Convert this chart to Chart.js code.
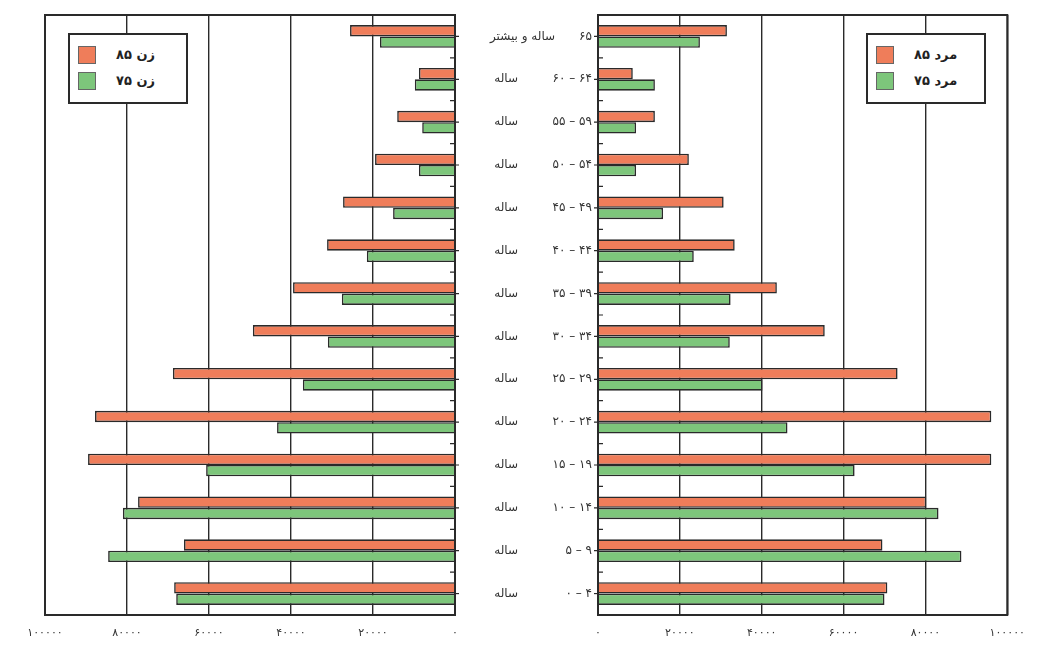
<!DOCTYPE html>
<html lang="fa">
<head>
<meta charset="utf-8">
<title>هرم سنی</title>
<script src="https://cdn.jsdelivr.net/npm/chart.js@4.4.1/dist/chart.umd.min.js"></script>
<style>
  body { margin: 0; background: #fff; }
  #wrap { position: relative; width: 1037px; height: 646px; overflow: hidden; }
  #leftBox { position: absolute; left: 0; top: 0; width: 470px; height: 646px; }
  #rightBox { position: absolute; left: 456px; top: 0; width: 581px; height: 646px; }
  .legend {
    position: absolute; width: 120px; height: 71px; background: #fff;
    border: 2px solid #2a2a2a; box-sizing: border-box;
    font-family: "DejaVu Sans", sans-serif; font-weight: bold; font-size: 13px; color: #222;
  }
  .legend .sw { position: absolute; left: 8px; width: 18px; height: 18px; box-sizing: border-box; border: 1px solid #666; }
  .legend .lb { position: absolute; left: 46px; line-height: 18px; direction: rtl; }
</style>
</head>
<body>
<div id="wrap">
  <div id="leftBox"><canvas id="womenChart" width="470" height="646"></canvas></div>
  <div id="rightBox"><canvas id="menChart" width="581" height="646"></canvas></div>
  <div class="legend" style="left:68px;top:33px">
    <div class="sw" style="top:11px;background:#EF7D5A"></div><div class="lb" style="top:11px">زن ۸۵</div>
    <div class="sw" style="top:37px;background:#7DC67B"></div><div class="lb" style="top:37px">زن ۷۵</div>
  </div>
  <div class="legend" style="left:866px;top:33px">
    <div class="sw" style="top:11px;background:#EF7D5A"></div><div class="lb" style="top:11px">مرد ۸۵</div>
    <div class="sw" style="top:37px;background:#7DC67B"></div><div class="lb" style="top:37px">مرد ۷۵</div>
  </div>
</div>
<script>
// age groups, top to bottom
var ageGroups = ['۶۵', '۶۰ – ۶۴', '۵۵ – ۵۹', '۵۰ – ۵۴', '۴۵ – ۴۹', '۴۰ – ۴۴', '۳۵ – ۳۹',
  '۳۰ – ۳۴', '۲۵ – ۲۹', '۲۰ – ۲۴', '۱۵ – ۱۹', '۱۰ – ۱۴', '۵ – ۹', '۰ – ۴'];
var ageSuffix = ['ساله و بیشتر', 'ساله', 'ساله', 'ساله', 'ساله', 'ساله', 'ساله',
  'ساله', 'ساله', 'ساله', 'ساله', 'ساله', 'ساله', 'ساله'];

var women85 = [25600, 8800, 14100, 19500, 27300, 31200, 39500, 49300, 68800, 87800, 89500, 77300, 66100, 68500];
var women75 = [18300, 9800, 8000, 8800, 15100, 21500, 27600, 31000, 37100, 43400, 60700, 81000, 84600, 68000];
var men85 = [31500, 8500, 13900, 22200, 30700, 33400, 43700, 55400, 73200, 96100, 96100, 80200, 69500, 70700];
var men75 = [24900, 13900, 9300, 9300, 15900, 23400, 32400, 32200, 40200, 46300, 62700, 83200, 88800, 70000];

var axisMax = 100000;
var axisStep = 20000;

var ORANGE = '#EF7D5A';
var GREEN = '#7DC67B';
var INK = '#2a2a2a';
var FONT = '"DejaVu Sans", sans-serif';

function toFa(n) {
  return String(n).replace(/\d/g, function (d) { return '۰۱۲۳۴۵۶۷۸۹'[d]; });
}

// frame + small ticks on the inner edge
function framePlugin(side) {
  return {
    id: 'frame',
    afterDraw: function (chart) {
      var a = chart.chartArea, ctx = chart.ctx, y = chart.scales.y;
      ctx.save();
      ctx.strokeStyle = INK;
      ctx.lineWidth = 2;
      ctx.strokeRect(a.left, a.top, a.right - a.left, a.bottom - a.top);
      ctx.lineWidth = 1.2;
      var edge = side === 'left' ? a.right : a.left;
      var dir = side === 'left' ? -1 : 1;
      for (var i = 0; i < ageGroups.length; i++) {
        var yb = y.getPixelForValue(i + 0.5);
        var yc = y.getPixelForValue(i);
        ctx.beginPath();
        if (i < ageGroups.length - 1) {
          ctx.moveTo(edge, yb); ctx.lineTo(edge + dir * 5, yb);
        }
        ctx.moveTo(edge, yc); ctx.lineTo(edge - dir * 4, yc);
        ctx.stroke();
      }
      ctx.restore();
    }
  };
}

// age labels in the gap between the two panels
var ageLabelPlugin = {
  id: 'ageLabels',
  afterDraw: function (chart) {
    var ctx = chart.ctx, y = chart.scales.y;
    var numRight = chart.chartArea.left - 6;
    ctx.save();
    ctx.fillStyle = '#333';
    ctx.font = '12px ' + FONT;
    ctx.textBaseline = 'middle';
    ageGroups.forEach(function (g, i) {
      var py = y.getPixelForValue(i);
      ctx.direction = 'ltr';
      ctx.textAlign = 'right';
      ctx.fillText(g, numRight, py);
      var w = ctx.measureText(g).width;
      var sx = ageSuffix[i] === 'ساله' ? 62 : numRight - w - 24;
      ctx.direction = 'rtl';
      ctx.textAlign = 'right';
      ctx.fillText(ageSuffix[i], sx, py);
    });
    ctx.restore();
  }
};

function makeChart(id, d85, d75, side) {
  var left = side === 'left';
  return new Chart(document.getElementById(id), {
    type: 'bar',
    data: {
      labels: ageGroups,
      datasets: [
        { data: d85, backgroundColor: ORANGE, borderColor: INK, borderWidth: 1.6,
          categoryPercentage: 0.53, barPercentage: 1 },
        { data: d75, backgroundColor: GREEN, borderColor: INK, borderWidth: 1.6,
          categoryPercentage: 0.53, barPercentage: 1 }
      ]
    },
    options: {
      indexAxis: 'y',
      responsive: false,
      animation: false,
      layout: { padding: left ? { left: 45, right: 15, top: 15, bottom: 0 }
                               : { left: 142, right: 28, top: 15, bottom: 0 } },
      plugins: { legend: { display: false }, tooltip: { enabled: false } },
      scales: {
        x: {
          reverse: left,
          min: 0,
          max: axisMax,
          border: { display: false },
          grid: { color: INK, lineWidth: 1.4, drawTicks: false },
          ticks: {
            stepSize: axisStep,
            padding: 12,
            color: '#333',
            font: { family: FONT, size: 11 },
            maxRotation: 0,
            callback: function (v) { return toFa(v); }
          },
          afterFit: function (s) { s.height = 31; }
        },
        y: { display: false }
      }
    },
    plugins: left ? [framePlugin('left')] : [framePlugin('right'), ageLabelPlugin]
  });
}

makeChart('womenChart', women85, women75, 'left');
makeChart('menChart', men85, men75, 'right');
</script>
</body>
</html>
